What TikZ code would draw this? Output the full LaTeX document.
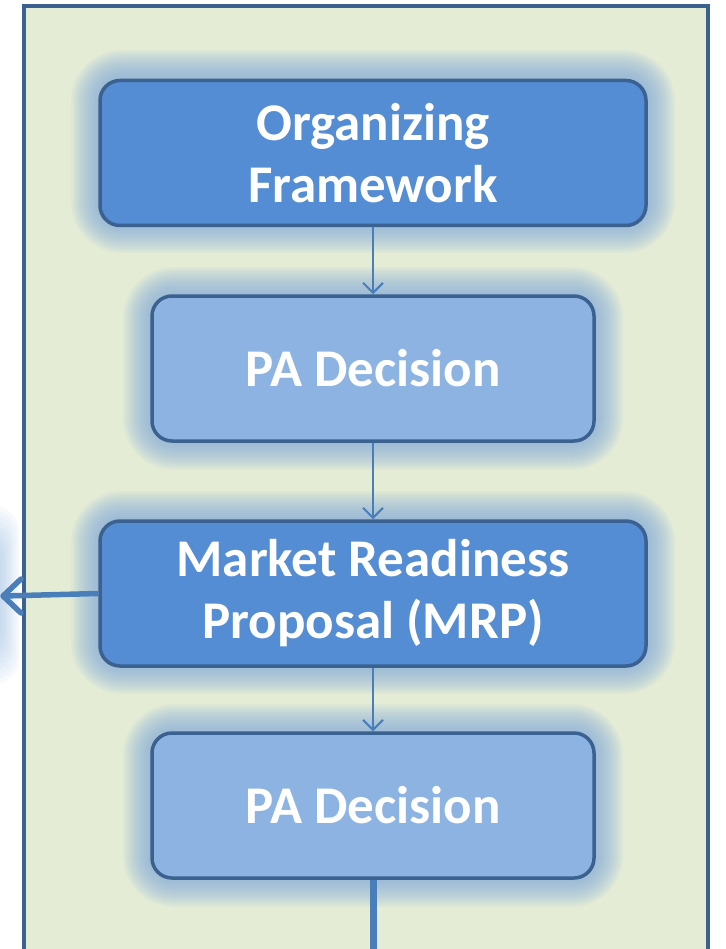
\documentclass[tikz,border=0pt]{standalone}
\usepackage{fontspec}
\setmainfont{Carlito}
\usetikzlibrary{arrows.meta}
\definecolor{frameline}{HTML}{3B6190}
\definecolor{framefill}{HTML}{E5ECD6}
\definecolor{darkbox}{HTML}{548DD4}
\definecolor{lightbox}{HTML}{8DB3E2}
\definecolor{glowc}{HTML}{7FAAD8}
\definecolor{arrowc}{HTML}{4A7EBB}
\tikzset{
  boxbase/.style={draw=frameline, line width=3.5pt, rounded corners=20pt, minimum height=145pt,
    text=white, font=\fontsize{53}{62}\selectfont\bfseries, align=center, inner sep=0pt},
  darkstep/.style={boxbase, fill=darkbox, minimum width=546pt},
  lightstep/.style={boxbase, fill=lightbox, minimum width=442pt},
  flow/.style={draw=arrowc, line width=2pt, -{Straight Barb[length=10pt,width=20pt]}},
  thickline/.style={draw=arrowc, line width=5.5pt, line cap=round, line join=round}
}
\newcommand{\glowrect}[4]{%
  \foreach \w in {58,54,...,4} {
    \draw[glowc, line width=\w pt, draw opacity=0.075, rounded corners=22pt] (#1,#2) rectangle (#3,#4);
  }%
}
\begin{document}
\begin{tikzpicture}[x=1pt,y=-1pt]
\useasboundingbox (0,0) rectangle (725,949);
\begin{scope}
\clip (0,0) rectangle (725,949);
% outside glow at left
\foreach \w in {30,27,...,3} {
  \fill[glowc, opacity=0.06, rounded corners=25pt] (-300,{545-\w*1.3}) rectangle ({\w*0.7-2},{645+\w*1.3});
}
% frame
\draw[frameline, fill=framefill, line width=4pt] (24,6) rectangle (708,980);
% glows
\glowrect{100}{79}{646}{224}
\glowrect{152}{296}{594}{441}
\glowrect{100}{520}{646}{665}
\glowrect{152}{733}{594}{878}
\end{scope}
% boxes
\node[darkstep] (of) at (373,153) {Organizing\\Framework};
\node[lightstep] (pa1) at (373,368.5) {PA Decision};
\node[darkstep] (mrp) at (373,593.5) {Market Readiness\\Proposal (MRP)};
\node[lightstep] (pa2) at (373,805.5) {PA Decision};
\coordinate (leftend) at (3,596);
\coordinate (bottomend) at (373,949);
% connectors
\draw[flow] (of.south) -- (pa1.north);
\draw[flow] (pa1.south) -- (mrp.north);
\draw[flow] (mrp.south) -- (pa2.north);
\begin{scope}
\clip (0,0) rectangle (725,949);
\draw[thickline, line cap=butt] (mrp.west) -- (leftend);
\draw[thickline] ([shift={(18,-17)}]leftend) -- (leftend) -- ([shift={(18,17)}]leftend);
\end{scope}
\draw[draw=arrowc, line width=7pt] (pa2.south) -- (bottomend);
\end{tikzpicture}
\end{document}
